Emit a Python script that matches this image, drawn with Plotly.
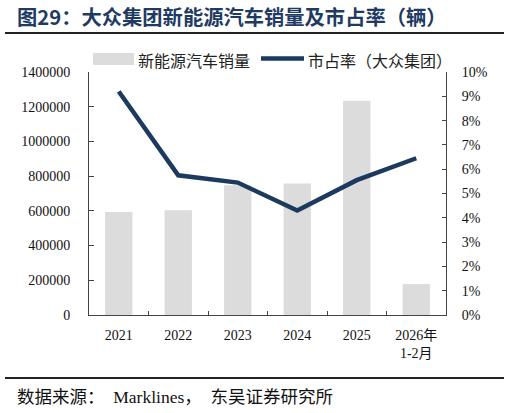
import plotly.graph_objects as go

categories = ["2021", "2022", "2023", "2024", "2025", "2026年<br>1-2月"]
sales = [593000, 603000, 748000, 758000, 1235000, 178000]
share = [9.2, 5.75, 5.45, 4.3, 5.55, 6.45]

FONT = "Liberation Serif, Times New Roman, Noto Sans CJK SC, serif"
BAR_COLOR = "#DCDCDC"
LINE_COLOR = "#1B3A5E"

L, R, T, B = 89, 446, 72, 315
W, H = R - L, B - T


def px(x):
    return (x - L) / W


def py(y):
    return (B - y) / H


fig = go.Figure()
fig.add_trace(go.Bar(x=categories, y=sales, name="新能源汽车销量",
                     marker=dict(color=BAR_COLOR, line=dict(width=0)), width=0.46))
fig.add_trace(go.Scatter(x=categories, y=share, name="市占率（大众集团）", yaxis="y2",
                         mode="lines", line=dict(color=LINE_COLOR, width=4.5)))

fig.update_layout(
    width=509, height=413,
    margin=dict(l=L, r=509 - R, t=T, b=413 - B),
    paper_bgcolor="white", plot_bgcolor="white",
    font=dict(family=FONT, size=14, color="#111111"),
    showlegend=False,
    xaxis=dict(showline=True, linecolor="#444444", linewidth=1, ticks="inside",
               tickson="boundaries", ticklen=4, tickcolor="#444444",
               showgrid=False, tickfont=dict(size=14, family=FONT),
               ticklabelstandoff=7),
    yaxis=dict(range=[0, 1400000], dtick=200000, showline=True, linecolor="#444444",
               ticks="inside", ticklen=5, tickcolor="#444444", showgrid=False,
               zeroline=False, tickformat="d", tickfont=dict(size=14, family=FONT),
               ticklabelstandoff=15),
    yaxis2=dict(range=[0, 10], dtick=1, overlaying="y", side="right", showline=True,
                linecolor="#444444", ticks="inside", ticklen=4, tickcolor="#444444",
                showgrid=False, zeroline=False, ticksuffix="%",
                tickfont=dict(size=14, family=FONT), ticklabelstandoff=12),
)

# manual legend
fig.add_shape(type="rect", xref="paper", yref="paper", x0=px(93), x1=px(134),
              y0=py(65), y1=py(53), fillcolor=BAR_COLOR, line=dict(width=0))
fig.add_annotation(text="新能源汽车销量", xref="paper", yref="paper", x=px(136), y=py(60),
                   xanchor="left", yanchor="middle", showarrow=False,
                   font=dict(size=16, family="Noto Sans CJK SC", color="#222222"))
fig.add_shape(type="line", xref="paper", yref="paper", x0=px(261), x1=px(304),
              y0=py(58.5), y1=py(58.5), line=dict(color=LINE_COLOR, width=4.5))
fig.add_annotation(text="市占率（大众集团）", xref="paper", yref="paper", x=px(306), y=py(60),
                   xanchor="left", yanchor="middle", showarrow=False,
                   font=dict(size=16, family="Noto Sans CJK SC", color="#222222"))

fig.add_annotation(text="<b>图29：大众集团新能源汽车销量及市占率（辆）</b>", xref="paper", yref="paper",
                   x=px(15), y=py(16), xanchor="left", yanchor="middle",
                   showarrow=False, font=dict(size=20.3, color="#1F3B63", family="Noto Sans CJK SC"))
fig.add_annotation(text="数据来源：\u00a0\u00a0Marklines，\u00a0\u00a0东吴证券研究所", xref="paper", yref="paper",
                   x=px(15), y=py(397), xanchor="left", yanchor="middle",
                   showarrow=False, font=dict(size=17.5, color="#111111", family=FONT))

fig.add_shape(type="line", xref="paper", yref="paper", x0=px(5), x1=px(504),
              y0=py(33), y1=py(33), line=dict(color="#222222", width=2))
fig.add_shape(type="line", xref="paper", yref="paper", x0=px(5), x1=px(504),
              y0=py(378), y1=py(378), line=dict(color="#222222", width=2))

fig.write_html("out.html")
